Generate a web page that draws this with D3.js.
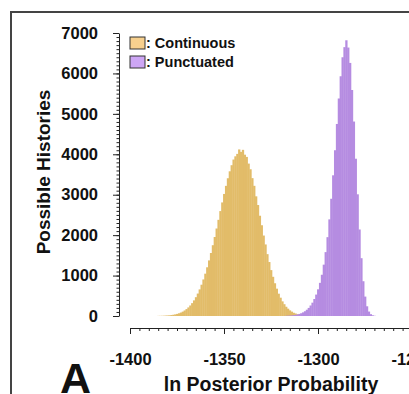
<!DOCTYPE html>
<html>
<head>
<meta charset="utf-8">
<script src="https://cdn.jsdelivr.net/npm/d3@7"></script>
<style>
  html, body { margin: 0; padding: 0; background: #fff; }
  svg { display: block; }
  text { font-family: "Liberation Sans", Arial, sans-serif; font-weight: bold; fill: #111; }
</style>
</head>
<body>
<script>
// histogram counts, one bin per ln-unit
const contStart = -1385;
const contCounts = [
  3, 4, 5, 7, 10, 13, 17, 23, 31, 40, 52, 67, 85, 108, 137, 171, 212, 260, 318, 386,
  465, 555, 658, 774, 904, 1047, 1205, 1375, 1558, 1751, 1954, 2164, 2379, 2595, 2809,
  3019, 3219, 3407, 3579, 3730, 3870, 3950, 4010, 4120, 4060, 4110, 3990, 3935, 3770,
  3630, 3410, 3220, 2960, 2745, 2480, 2245, 1990, 1770, 1530, 1335, 1135, 970, 810, 676,
  552, 453, 362, 292, 229, 181, 139, 108, 80, 62, 44, 34
];
const punctStart = -1317;
const punctCounts = [
  5, 7, 10, 14, 20, 28, 38, 51, 68, 90, 118, 155, 200, 260, 330, 420, 530, 660, 820,
  1020, 1270, 1580, 1950, 2390, 2900, 3480, 4100, 4750, 5380, 5930, 6400, 6650, 6820,
  6640, 6260, 5590, 4810, 3890, 3010, 2140, 1430, 860, 480, 240, 110, 45, 18, 6
];
const series = [
  { name: ": Continuous", start: contStart, counts: contCounts, color: "#e2bc69", swatch: "#f7d08e" },
  { name: ": Punctuated", start: punctStart, counts: punctCounts, color: "#b58ce1", swatch: "#cda6f5" }
];
const xMajor = [-1400, -1350, -1300, -1250];
const yMajor = [0, 1000, 2000, 3000, 4000, 5000, 6000, 7000];

const W = 409, H = 394;
const svg = d3.select("body").append("svg").attr("width", W).attr("height", H);

const x = d3.scaleLinear().domain([-1400, -1250]).range([130, 412]);
const y = d3.scaleLinear().domain([0, 7000]).range([316, 33]);
const plain = d => String(d);

// frame
svg.append("path")
  .attr("d", `M11,${H} V12 H${W}`)
  .attr("fill", "none").attr("stroke", "#444").attr("stroke-width", 2);

// bars
series.forEach(s => {
  svg.append("g")
    .selectAll("rect")
    .data(s.counts.map((c, i) => ({ v: s.start + i, c })))
    .join("rect")
      .attr("x", d => x(d.v - 0.5))
      .attr("width", d => x(d.v + 0.5) - x(d.v - 0.5) + 0.4)
      .attr("y", d => y(d.c))
      .attr("height", d => y(0) - y(d.c))
      .attr("fill", s.color);
});

// y axis
const yMinor = svg.append("g").attr("transform", "translate(119,0)")
  .call(d3.axisLeft(y).tickValues(d3.range(0, 7001, 100)).tickSize(2.5).tickSizeOuter(0).tickFormat(""));
yMinor.select(".domain").remove();
const yAx = svg.append("g").attr("transform", "translate(119,0)")
  .call(d3.axisLeft(y).tickValues(yMajor).tickSize(6).tickSizeOuter(0).tickPadding(15).tickFormat(plain));
yAx.selectAll("text").attr("font-size", 16.5).attr("font-family", null);

// x axis
const xMinor = svg.append("g").attr("transform", "translate(0,328)")
  .call(d3.axisBottom(x).tickValues(d3.range(-1400, -1249, 5)).tickSize(3).tickSizeOuter(0).tickFormat(""));
xMinor.select(".domain").remove();
const xAx = svg.append("g").attr("transform", "translate(0,328)")
  .call(d3.axisBottom(x).tickValues(xMajor).tickSize(6).tickSizeOuter(0).tickPadding(19).tickFormat(plain));
xAx.selectAll("text").attr("font-size", 16.5).attr("font-family", null);

svg.selectAll(".tick line, .domain").attr("stroke", "#222");

// axis titles
svg.append("text")
  .attr("transform", "translate(50,172) rotate(-90)")
  .attr("text-anchor", "middle").attr("font-size", 19)
  .text("Possible Histories");
svg.append("text")
  .attr("x", 271).attr("y", 391)
  .attr("text-anchor", "middle").attr("font-size", 19.5)
  .text("ln Posterior Probability");

// panel letter
svg.append("text").attr("x", 60).attr("y", 393).attr("font-size", 43).text("A");

// legend
const leg = svg.append("g").selectAll("g").data(series).join("g")
  .attr("transform", (d, i) => `translate(130,${37 + i * 19})`);
leg.append("rect").attr("width", 15).attr("height", 12)
  .attr("fill", d => d.swatch).attr("stroke", "#333").attr("stroke-width", 1);
leg.append("text").attr("x", 16).attr("y", 11).attr("font-size", 14.5).text(d => d.name);
</script>
</body>
</html>
